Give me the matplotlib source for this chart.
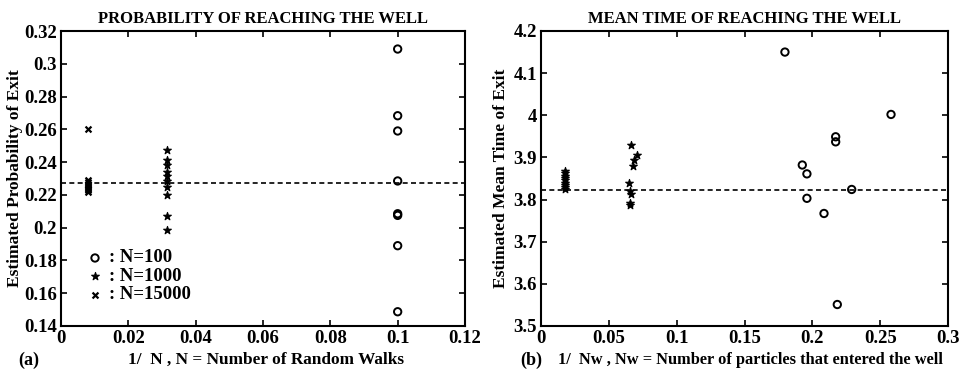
import numpy as np
import matplotlib
matplotlib.use("Agg")
import matplotlib.pyplot as plt
from matplotlib.font_manager import FontProperties

plt.rcParams['font.family'] = ['Liberation Serif', 'DejaVu Serif']

# ---- Panel (a): probability of reaching the well ----
walks = [100, 1000, 15000]
prob_n100 = [0.309, 0.2683, 0.259, 0.2285, 0.2085, 0.2075, 0.189, 0.1487]
prob_n1000 = [0.2474, 0.241, 0.2385, 0.234, 0.2315, 0.2285, 0.225, 0.2199, 0.2071, 0.1985]
prob_n15000 = [0.26, 0.2288, 0.2278, 0.2268, 0.2258, 0.2248, 0.2238, 0.2228, 0.2218]
prob_ref = 0.2275

# ---- Panel (b): mean time of reaching the well ----
inv_nw_n100 = [0.1798, 0.2172, 0.2172, 0.1926, 0.196, 0.229, 0.196, 0.2086, 0.2184, 0.258]
time_n100 = [4.150, 3.949, 3.937, 3.882, 3.861, 3.824, 3.803, 3.767, 3.551, 4.002]
inv_nw_n1000 = [0.0663, 0.0705, 0.0685, 0.068, 0.0651, 0.0656, 0.066, 0.0656, 0.0656]
time_n1000 = [3.929, 3.906, 3.894, 3.880, 3.840, 3.820, 3.813, 3.792, 3.786]
inv_nw_n15000 = [0.0175, 0.0178, 0.0176, 0.0174, 0.0177, 0.0175, 0.0176, 0.0174, 0.0175]
time_n15000 = [3.868, 3.862, 3.857, 3.852, 3.846, 3.840, 3.835, 3.829, 3.824]
time_ref = 3.823

fig = plt.figure(figsize=(9.59, 3.74), dpi=100)
ax1 = fig.add_axes([61/959, 1-326/374, 404/959, 295/374])
ax2 = fig.add_axes([541/959, 1-326/374, 407/959, 295/374])

tick_font = FontProperties(family='Liberation Serif', weight='bold', size=13.5)
circle_kw = dict(marker='o', s=28, facecolors='none', edgecolors='black', linewidths=1.4, zorder=3)
star_kw = dict(marker='*', s=34, color='black', linewidths=0.8, zorder=3)
cross_kw = dict(marker='x', s=18, color='black', linewidths=1.6, zorder=3)


def style_axes(ax):
    for sp in ax.spines.values():
        sp.set_linewidth(1.5)
    ax.tick_params(direction='in', length=4, width=1.2, top=True, right=True, pad=3)
    for lab in ax.get_xticklabels() + ax.get_yticklabels():
        lab.set_fontproperties(tick_font)


# Panel (a)
x100 = np.full(len(prob_n100), 1/np.sqrt(walks[0]))
x1000 = np.full(len(prob_n1000), 1/np.sqrt(walks[1]))
x15000 = np.full(len(prob_n15000), 1/np.sqrt(walks[2]))
ax1.scatter(x100, prob_n100, **circle_kw)
ax1.scatter(x1000, prob_n1000, **star_kw)
ax1.scatter(x15000, prob_n15000, **cross_kw)
ax1.axhline(prob_ref, color='black', linestyle=(0, (3, 2)), linewidth=1.2, zorder=2)
ax1.set_xlim(0, 0.12)
ax1.set_ylim(0.14, 0.32)
ax1.set_xticks([0, 0.02, 0.04, 0.06, 0.08, 0.1, 0.12])
ax1.set_xticklabels(['0', '0.02', '0.04', '0.06', '0.08', '0.1', '0.12'])
ax1.set_yticks([0.14, 0.16, 0.18, 0.2, 0.22, 0.24, 0.26, 0.28, 0.3, 0.32])
ax1.set_yticklabels(['0.14', '0.16', '0.18', '0.2', '0.22', '0.24', '0.26', '0.28', '0.3', '0.32'])
style_axes(ax1)
ax1.set_title('PROBABILITY OF REACHING THE WELL', fontsize=12, fontweight='bold', pad=6)
ax1.set_ylabel('Estimated Probability of Exit', fontsize=12.5, fontweight='bold', labelpad=1)

# in-axes key
key_marks = [(circle_kw, ': N=100'), (star_kw, ': N=1000'), (cross_kw, ': N=15000')]
for i, (kw, txt) in enumerate(key_marks):
    yk = 0.1815 - i * 0.0112
    ax1.scatter([0.0101], [yk], **kw)
    ax1.text(0.0142, yk, txt, fontsize=13.5, fontweight='bold', va='center', ha='left')

fig.text(18/959, 1-360/374, '(a)', fontsize=13, fontweight='bold', va='center', ha='left')
fig.text(266/959, 1-360/374, '1/  N , N = Number of Random Walks', fontsize=12.4,
         fontweight='bold', va='center', ha='center')

# Panel (b)
ax2.scatter(inv_nw_n100, time_n100, **circle_kw)
ax2.scatter(inv_nw_n1000, time_n1000, **star_kw)
ax2.scatter(inv_nw_n15000, time_n15000, **star_kw)
ax2.axhline(time_ref, color='black', linestyle=(0, (3, 2)), linewidth=1.2, zorder=2)
ax2.set_xlim(0, 0.3)
ax2.set_ylim(3.5, 4.2)
ax2.set_xticks([0, 0.05, 0.1, 0.15, 0.2, 0.25, 0.3])
ax2.set_xticklabels(['0', '0.05', '0.1', '0.15', '0.2', '0.25', '0.3'])
ax2.set_yticks([3.5, 3.6, 3.7, 3.8, 3.9, 4.0, 4.1, 4.2])
ax2.set_yticklabels(['3.5', '3.6', '3.7', '3.8', '3.9', '4', '4.1', '4.2'])
style_axes(ax2)
ax2.set_title('MEAN TIME OF REACHING THE WELL', fontsize=12, fontweight='bold', pad=6)
ax2.set_ylabel('Estimated Mean Time of Exit', fontsize=12.5, fontweight='bold', labelpad=3)

fig.text(520/959, 1-360/374, '(b)', fontsize=13, fontweight='bold', va='center', ha='left')
fig.text(750/959, 1-360/374, '1/  Nw , Nw = Number of particles that entered the well',
         fontsize=11.8, fontweight='bold', va='center', ha='center')

fig.savefig('out.png', dpi=100)
